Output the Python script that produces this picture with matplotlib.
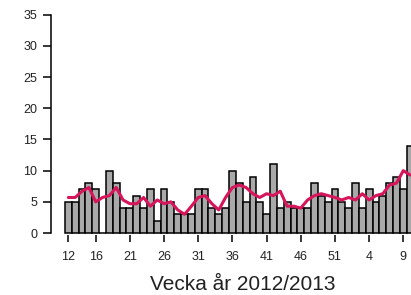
import matplotlib
matplotlib.use("Agg")
import matplotlib.pyplot as plt
import numpy as np

plt.rcParams['font.family'] = ['Liberation Sans', 'DejaVu Sans']

weeks = [12, 13, 14, 15, 16, 17, 18, 19, 20, 21, 22, 23, 24, 25, 26, 27, 28, 29, 30,
         31, 32, 33, 34, 35, 36, 37, 38, 39, 40, 41, 42, 43, 44, 45, 46, 47, 48, 49,
         50, 51, 52, 1, 2, 3, 4, 5, 6, 7, 8, 9, 10]
counts = [5, 5, 7, 8, 7, 0, 10, 8, 4, 4, 6, 4, 7, 2, 7, 5, 3, 3, 3,
          7, 7, 4, 3, 4, 10, 8, 5, 9, 5, 3, 11, 4, 5, 4, 4, 4, 8, 6,
          5, 7, 5, 4, 8, 4, 7, 5, 6, 8, 9, 7, 14]
trend = [5.7, 5.7, 6.7, 7.3, 5.0, 5.7, 6.0, 7.3, 5.3, 4.7, 4.7, 5.7, 4.3, 5.3, 4.7, 5.0, 3.7, 3.0, 4.3,
         5.7, 6.0, 4.7, 3.7, 5.7, 7.3, 7.7, 7.3, 6.3, 5.7, 6.3, 6.0, 6.7, 4.3, 4.3, 4.0, 5.3, 6.0, 6.3,
         6.0, 5.7, 5.3, 5.7, 5.3, 6.3, 5.3, 6.0, 6.3, 7.7, 8.0, 10.0, 9.3]
tick_weeks = [12, 16, 21, 26, 31, 36, 41, 46, 51, 4, 9]
yticks = [0, 5, 10, 15, 20, 25, 30, 35]
xlabel = "Vecka år 2012/2013"

W, H = 411, 295
fig = plt.figure(figsize=(W / 100, H / 100), dpi=100)

left_px, right_px = 51, 427.5
bottom_px, top_px = 234.9, 11.6
ax = fig.add_axes([left_px / W, 1 - bottom_px / H,
                   (right_px - left_px) / W, (bottom_px - top_px) / H])

x = np.arange(len(weeks))
n = len(weeks)
ax.bar(x, counts, width=1.0, color='#A9A9A9', edgecolor='black', linewidth=1.1,
       clip_on=False, zorder=2)
ax.plot(x, trend, color='#D6155A', linewidth=2.2, zorder=3, solid_capstyle='round')

pad = 0.04 * n
ax.set_xlim(-0.5 - pad, n - 0.5 + pad)
ax.set_ylim(-0.3, 35.5)

ax.spines['top'].set_visible(False)
ax.spines['right'].set_visible(False)
ax.spines['bottom'].set_visible(False)
ax.spines['left'].set_bounds(0, 35)
ax.spines['left'].set_linewidth(1.1)

ax.set_yticks(yticks)
ax.set_yticklabels([str(v) for v in yticks])
tick_pos = [weeks.index(w) for w in tick_weeks]
ax.set_xticks(tick_pos)
ax.set_xticklabels([str(w) for w in tick_weeks])

ax.tick_params(axis='y', length=5.8, width=1.1, pad=4, labelsize=9, colors='black',
               labelcolor='#222222')
ax.tick_params(axis='x', length=4.8, width=1.1, pad=6.5, labelsize=9, colors='black',
               labelcolor='#222222')

fig.text(243 / W, 1 - 290.5 / H, xlabel, ha='center', va='baseline', fontsize=15,
         color='#222222')

fig.savefig("out.png", dpi=100)
